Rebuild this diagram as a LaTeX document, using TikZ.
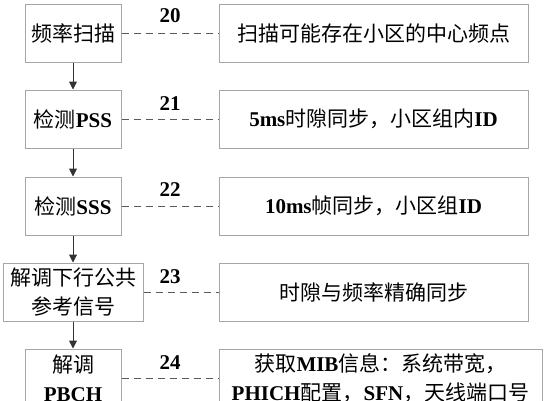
\documentclass[tikz,border=0pt]{standalone}
\usepackage{fontspec}
\setmainfont{Liberation Serif}
\newfontfamily\cjk{Noto Sans CJK SC}
\newcommand{\zh}[1]{{\cjk\mdseries #1}}
\usetikzlibrary{arrows.meta}

\begin{document}
\begin{tikzpicture}[x=1pt, y=-1pt,
  box/.style={draw=gray!70, line width=1pt, fill=white, minimum height=58pt, inner sep=0pt, align=center, font=\fontsize{21}{29}\selectfont\bfseries},
  stepbox/.style={box, minimum width=96pt},
  infobox/.style={box, minimum width=309pt},
  num/.style={font=\fontsize{21}{25}\selectfont\bfseries},
  flow/.style={-{Triangle[length=8pt, width=8pt]}, draw=gray!40!black, line width=1pt},
  link/.style={draw=gray!70!black, line width=1pt, dash pattern=on 7pt off 5pt}]
\useasboundingbox (0,0) rectangle (554,400);
\clip (0,0) rectangle (554,400);
% left column: steps
\node[stepbox] (n20) at (73,33.5) {\zh{频率扫描}};
\node[stepbox] (n21) at (73,119) {\zh{检测}PSS};
\node[stepbox] (n22) at (73,206) {\zh{检测}SSS};
\node[stepbox, minimum width=140pt] (n23) at (73,292) {\zh{解调下行公共}\\\zh{参考信号}};
\node[stepbox] (n24) at (73,378) {\zh{解调}\\PBCH};
% right column: results
\node[infobox] (m20) at (373.5,33.5) {\zh{扫描可能存在小区的中心频点}};
\node[infobox] (m21) at (373.5,119) {5ms\zh{时隙同步，小区组内}ID};
\node[infobox] (m22) at (373.5,206) {10ms\zh{帧同步，小区组}ID};
\node[infobox] (m23) at (373.5,292) {\zh{时隙与频率精确同步}};
\node[infobox, minimum width=323pt] (m24) at (380.5,378) {\zh{获取}MIB\zh{信息：系统带宽，}\\PHICH\zh{配置，}SFN\zh{，天线端口号}};
% labels
\node[num] (l20) at (170,16) {20};
\node[num] (l21) at (170,104) {21};
\node[num] (l22) at (170,190) {22};
\node[num] (l23) at (170,277) {23};
\node[num] (l24) at (170,363) {24};
% connectors
\draw[flow] (n20) -- (n21);
\draw[flow] (n21) -- (n22);
\draw[flow] (n22) -- (n23);
\draw[flow] (n23) -- (n24);
\draw[link] (n20) -- (m20);
\draw[link] (n21) -- (m21);
\draw[link] (n22) -- (m22);
\draw[link] (n23) -- (m23);
\draw[link] (n24) -- (m24);
\end{tikzpicture}
\end{document}
